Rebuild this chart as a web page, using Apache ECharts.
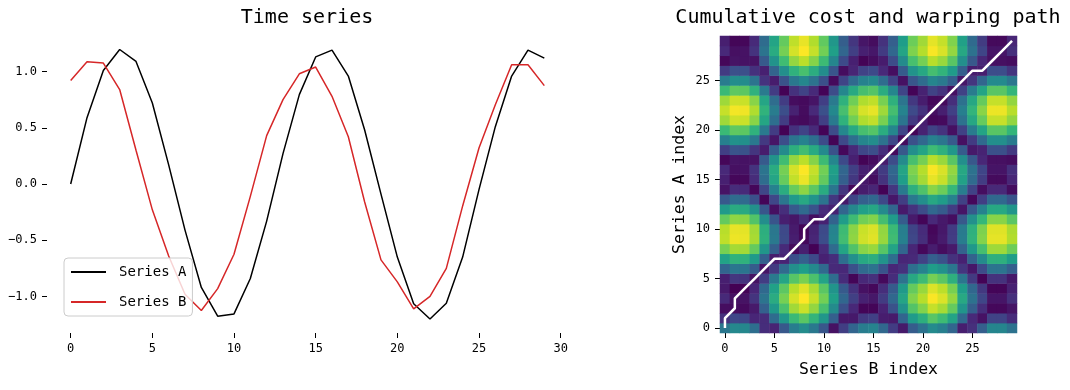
<!DOCTYPE html>
<html>
<head>
<meta charset="utf-8">
<script src="https://cdn.jsdelivr.net/npm/echarts@6/dist/echarts.min.js"></script>
<style>html,body{margin:0;padding:0;background:#fff;}#c{width:1070px;height:390px;}</style>
</head>
<body>
<div id="c"></div>
<script>
const timeIndex = [0,1,2,3,4,5,6,7,8,9,10,11,12,13,14,15,16,17,18,19,20,21,22,23,24,25,26,27,28,29];
const seriesA = [0.00,0.59,1.01,1.196,1.09,0.72,0.17,-0.41,-0.92,-1.176,-1.155,-0.84,-0.33,0.27,0.795,1.13,1.19,0.96,0.48,-0.09,-0.65,-1.065,-1.20,-1.06,-0.65,-0.05,0.51,0.96,1.19,1.12];
const seriesB = [0.92,1.087,1.075,0.84,0.30,-0.23,-0.64,-0.98,-1.125,-0.93,-0.625,-0.11,0.43,0.75,0.98,1.04,0.78,0.42,-0.16,-0.675,-0.87,-1.11,-1.00,-0.75,-0.195,0.32,0.705,1.06,1.06,0.875];
const pathB = [0,0,1,1,2,3,4,5,6,7,8,8,9,10,11,12,13,14,15,16,17,18,19,20,21,22,23,24,25,26,27,28,29];
const pathA = [0,1,2,3,4,5,6,7,7,8,9,10,11,11,12,13,14,15,16,17,18,19,20,21,22,23,24,25,26,26,27,28,29];
const xTicks = [0,5,10,15,20,25,30];
const yTicks = [-1.0,-0.5,0.0,0.5,1.0];
const heatTicks = [0,5,10,15,20,25];

const FONT = 'DejaVu Sans Mono';
const viridis = ['#440154','#482878','#3e4989','#31688e','#26828e','#1f9e89','#35b779','#6ece58','#b5de2b','#fde725'];

// local cost matrix |A_i - B_j|
const cost = [];
let cmin = Infinity, cmax = -Infinity;
for (let i = 0; i < seriesA.length; i++) {
  for (let j = 0; j < seriesB.length; j++) {
    const v = Math.abs(seriesA[i] - seriesB[j]);
    cmin = Math.min(cmin, v); cmax = Math.max(cmax, v);
    cost.push([j, i, v]);
  }
}
const pathData = pathB.map((b, k) => [b, pathA[k]]);
const catLabels = timeIndex.map(String);
const fmtMinus = v => (v < 0 ? '\u2212' + Math.abs(v).toFixed(1) : v.toFixed(1));

const chart = echarts.init(document.getElementById('c'), null, {renderer: 'canvas'});
chart.setOption({
  animation: false,
  backgroundColor: '#fff',
  textStyle: {fontFamily: FONT},
  title: [
    {text: 'Time series', left: 307, top: 8, textAlign: 'center', padding: 0,
     textStyle: {fontFamily: FONT, fontSize: 20, fontWeight: 'normal', color: '#000'}},
    {text: 'Cumulative cost and warping path', left: 868, top: 8, textAlign: 'center', padding: 0,
     textStyle: {fontFamily: FONT, fontSize: 20, fontWeight: 'normal', color: '#000'}}
  ],
  legend: {
    data: ['Series A', 'Series B'],
    orient: 'vertical', left: 64, top: 258,
    itemWidth: 35, itemHeight: 14, itemGap: 16,
    padding: [7, 6, 7, 6],
    borderColor: '#cccccc', borderWidth: 1, borderRadius: 4,
    backgroundColor: 'rgba(255,255,255,0.8)',
    itemStyle: {opacity: 0},
    textStyle: {fontFamily: FONT, fontSize: 14, color: '#000', padding: [0, 0, 0, 8]}
  },
  visualMap: {
    show: false, type: 'continuous', seriesIndex: 2, min: cmin, max: cmax, dimension: 2,
    inRange: {color: viridis}
  },
  grid: [
    {left: 47, right: 502, top: 35, bottom: 57},
    {left: 720, top: 36, width: 297, height: 297}
  ],
  xAxis: [
    {type: 'value', gridIndex: 0, min: -1.45, max: 30.45,
     axisLine: {show: false, onZero: false}, splitLine: {show: false},
     axisTick: {show: true, length: 5, customValues: xTicks, lineStyle: {color: '#000'}},
     axisLabel: {customValues: xTicks, margin: 10, fontFamily: FONT, fontSize: 12, color: '#000'}},
    {type: 'category', gridIndex: 1, data: catLabels, boundaryGap: true,
     name: 'Series B index', nameLocation: 'middle', nameGap: 28,
     nameTextStyle: {fontFamily: FONT, fontSize: 16.5, color: '#000'},
     axisLine: {show: false, onZero: false}, splitLine: {show: false},
     axisTick: {show: true, length: 5, alignWithLabel: true, interval: (i) => heatTicks.includes(i), lineStyle: {color: '#000'}},
     axisLabel: {interval: (i) => heatTicks.includes(i), margin: 10, fontFamily: FONT, fontSize: 12, color: '#000'}}
  ],
  yAxis: [
    {type: 'value', gridIndex: 0, min: -1.325, max: 1.325,
     axisLine: {show: false, onZero: false}, splitLine: {show: false},
     axisTick: {show: true, length: 5, customValues: yTicks, lineStyle: {color: '#000'}},
     axisLabel: {customValues: yTicks, margin: 10, fontFamily: FONT, fontSize: 12, color: '#000', formatter: fmtMinus}},
    {type: 'category', gridIndex: 1, data: catLabels, boundaryGap: true,
     name: 'Series A index', nameLocation: 'middle', nameGap: 32, nameRotate: 90,
     nameTextStyle: {fontFamily: FONT, fontSize: 16.5, color: '#000'},
     axisLine: {show: false, onZero: false}, splitLine: {show: false},
     axisTick: {show: true, length: 5, alignWithLabel: true, interval: (i) => heatTicks.includes(i), lineStyle: {color: '#000'}},
     axisLabel: {interval: (i) => heatTicks.includes(i), margin: 10, fontFamily: FONT, fontSize: 12, color: '#000'}}
  ],
  series: [
    {name: 'Series A', type: 'line', xAxisIndex: 0, yAxisIndex: 0, symbol: 'none',
     data: timeIndex.map((t, k) => [t, seriesA[k]]),
     lineStyle: {color: '#000000', width: 1.5}, itemStyle: {color: '#000000'}},
    {name: 'Series B', type: 'line', xAxisIndex: 0, yAxisIndex: 0, symbol: 'none',
     data: timeIndex.map((t, k) => [t, seriesB[k]]),
     lineStyle: {color: '#d62728', width: 1.5}, itemStyle: {color: '#d62728'}},
    {name: 'cost', type: 'heatmap', xAxisIndex: 1, yAxisIndex: 1, data: cost,
     progressive: 0, emphasis: {disabled: true}},
    {name: 'path', type: 'line', xAxisIndex: 1, yAxisIndex: 1, symbol: 'none', data: pathData,
     lineStyle: {color: '#ffffff', width: 2.5}, z: 5}
  ]
});
</script>
</body>
</html>
